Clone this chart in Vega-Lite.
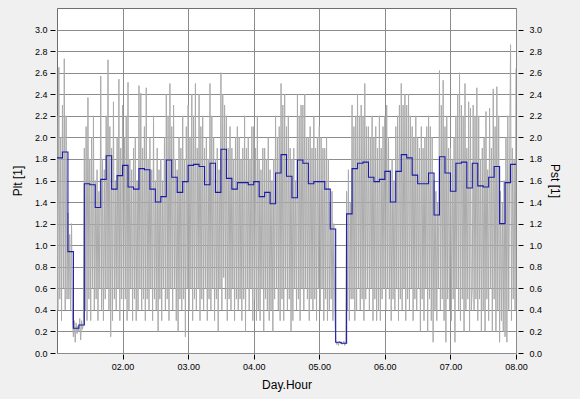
{
"$schema":"https://vega.github.io/schema/vega-lite/v6.json",
"width":459,"height":345,"autosize":"none",
"padding":{"left":57,"top":8,"right":64,"bottom":46},
"background":"#f0f0f0",
"config":{"view":{"fill":"white","stroke":"#6e6e6e","strokeWidth":1},"font":"Liberation Sans"},
"datasets":{
"plt":[{"t":1,"v":1.81},{"t":1.0833,"v":1.865},{"t":1.1667,"v":0.94},{"t":1.25,"v":0.23},{"t":1.3333,"v":0.26},{"t":1.4167,"v":1.57},{"t":1.5,"v":1.56},{"t":1.5833,"v":1.35},{"t":1.6667,"v":1.61},{"t":1.75,"v":1.83},{"t":1.8333,"v":1.52},{"t":1.9167,"v":1.645},
{"t":2,"v":1.74},{"t":2.0833,"v":1.54},{"t":2.1667,"v":1.52},{"t":2.25,"v":1.71},{"t":2.3333,"v":1.7},{"t":2.4167,"v":1.52},{"t":2.5,"v":1.4},{"t":2.5833,"v":1.45},{"t":2.6667,"v":1.79},{"t":2.75,"v":1.63},{"t":2.8333,"v":1.49},{"t":2.9167,"v":1.59},
{"t":3,"v":1.74},{"t":3.0833,"v":1.75},{"t":3.1667,"v":1.73},{"t":3.25,"v":1.56},{"t":3.3333,"v":1.76},{"t":3.4167,"v":1.49},{"t":3.5,"v":1.89},{"t":3.5833,"v":1.62},{"t":3.6667,"v":1.52},{"t":3.75,"v":1.58},{"t":3.8333,"v":1.58},{"t":3.9167,"v":1.56},
{"t":4,"v":1.59},{"t":4.0833,"v":1.45},{"t":4.1667,"v":1.49},{"t":4.25,"v":1.385},{"t":4.3333,"v":1.67},{"t":4.4167,"v":1.84},{"t":4.5,"v":1.64},{"t":4.5833,"v":1.44},{"t":4.6667,"v":1.79},{"t":4.75,"v":1.76},{"t":4.8333,"v":1.57},{"t":4.9167,"v":1.59},
{"t":5,"v":1.59},{"t":5.0833,"v":1.52},{"t":5.1667,"v":1.15},{"t":5.25,"v":0.1},{"t":5.3333,"v":0.09},{"t":5.4167,"v":1.29},{"t":5.5,"v":1.71},{"t":5.5833,"v":1.76},{"t":5.6667,"v":1.77},{"t":5.75,"v":1.63},{"t":5.8333,"v":1.59},{"t":5.9167,"v":1.61},
{"t":6,"v":1.685},{"t":6.0833,"v":1.4},{"t":6.1667,"v":1.685},{"t":6.25,"v":1.84},{"t":6.3333,"v":1.81},{"t":6.4167,"v":1.65},{"t":6.5,"v":1.57},{"t":6.5833,"v":1.57},{"t":6.6667,"v":1.67},{"t":6.75,"v":1.28},{"t":6.8333,"v":1.82},{"t":6.9167,"v":1.67},
{"t":7,"v":1.5},{"t":7.0833,"v":1.76},{"t":7.1667,"v":1.77},{"t":7.25,"v":1.53},{"t":7.3333,"v":1.76},{"t":7.4167,"v":1.55},{"t":7.5,"v":1.54},{"t":7.5833,"v":1.63},{"t":7.6667,"v":1.73},{"t":7.75,"v":1.2},{"t":7.8333,"v":1.58},{"t":7.9167,"v":1.75},{"t":8,"v":1.75}],
"pst":[
{"t":1.000,"p":2.2},{"t":1.014,"p":0.4},{"t":1.028,"p":2.65},{"t":1.042,"p":0.5},{"t":1.056,"p":2.0},{"t":1.069,"p":0.3},
{"t":1.083,"p":2.3},{"t":1.097,"p":0.6},{"t":1.111,"p":2.73},{"t":1.125,"p":0.4},{"t":1.139,"p":2.2},{"t":1.153,"p":0.5},
{"t":1.167,"p":1.3},{"t":1.181,"p":0.5},{"t":1.194,"p":1.1},{"t":1.208,"p":0.4},{"t":1.222,"p":1.2},{"t":1.236,"p":0.3},
{"t":1.250,"p":0.15},{"t":1.264,"p":0.3},{"t":1.278,"p":0.1},{"t":1.292,"p":0.28},{"t":1.306,"p":0.18},{"t":1.319,"p":0.25},
{"t":1.333,"p":0.2},{"t":1.347,"p":0.32},{"t":1.361,"p":0.12},{"t":1.375,"p":0.3},{"t":1.389,"p":0.22},{"t":1.403,"p":0.28},
{"t":1.417,"p":1.9},{"t":1.431,"p":0.4},{"t":1.444,"p":2.1},{"t":1.458,"p":0.3},{"t":1.472,"p":2.37},{"t":1.486,"p":0.5},
{"t":1.500,"p":1.8},{"t":1.514,"p":0.3},{"t":1.528,"p":2.0},{"t":1.542,"p":0.6},{"t":1.556,"p":2.2},{"t":1.569,"p":0.4},
{"t":1.583,"p":1.6},{"t":1.597,"p":0.5},{"t":1.611,"p":1.7},{"t":1.625,"p":0.3},{"t":1.639,"p":1.5},{"t":1.653,"p":0.6},
{"t":1.667,"p":2.57},{"t":1.681,"p":0.4},{"t":1.694,"p":1.8},{"t":1.708,"p":0.3},{"t":1.722,"p":1.7},{"t":1.736,"p":0.5},
{"t":1.750,"p":2.2},{"t":1.764,"p":0.6},{"t":1.778,"p":2.72},{"t":1.792,"p":0.4},{"t":1.806,"p":2.1},{"t":1.819,"p":0.15},
{"t":1.833,"p":1.9},{"t":1.847,"p":0.3},{"t":1.861,"p":2.33},{"t":1.875,"p":0.5},{"t":1.889,"p":1.6},{"t":1.903,"p":0.4},
{"t":1.917,"p":2.0},{"t":1.931,"p":0.6},{"t":1.944,"p":2.54},{"t":1.958,"p":0.3},{"t":1.972,"p":1.9},{"t":1.986,"p":0.5},
{"t":2.000,"p":2.3},{"t":2.014,"p":0.4},{"t":2.028,"p":2.0},{"t":2.042,"p":0.5},{"t":2.056,"p":2.2},{"t":2.069,"p":0.3},
{"t":2.083,"p":2.51},{"t":2.097,"p":0.4},{"t":2.111,"p":1.8},{"t":2.125,"p":0.6},{"t":2.139,"p":1.7},{"t":2.153,"p":0.3},
{"t":2.167,"p":1.9},{"t":2.181,"p":0.5},{"t":2.194,"p":2.0},{"t":2.208,"p":0.3},{"t":2.222,"p":1.6},{"t":2.236,"p":0.4},
{"t":2.250,"p":2.48},{"t":2.264,"p":0.6},{"t":2.278,"p":2.41},{"t":2.292,"p":0.4},{"t":2.306,"p":1.9},{"t":2.319,"p":0.5},
{"t":2.333,"p":2.1},{"t":2.347,"p":0.3},{"t":2.361,"p":2.46},{"t":2.375,"p":0.5},{"t":2.389,"p":1.8},{"t":2.403,"p":0.4},
{"t":2.417,"p":2.0},{"t":2.431,"p":0.6},{"t":2.444,"p":1.7},{"t":2.458,"p":0.3},{"t":2.472,"p":2.2},{"t":2.486,"p":0.5},
{"t":2.500,"p":1.6},{"t":2.514,"p":0.4},{"t":2.528,"p":1.9},{"t":2.542,"p":0.2},{"t":2.556,"p":1.7},{"t":2.569,"p":0.5},
{"t":2.583,"p":1.8},{"t":2.597,"p":0.3},{"t":2.611,"p":1.6},{"t":2.625,"p":0.6},{"t":2.639,"p":2.0},{"t":2.653,"p":0.4},
{"t":2.667,"p":2.4},{"t":2.681,"p":0.5},{"t":2.694,"p":2.2},{"t":2.708,"p":0.3},{"t":2.722,"p":2.5},{"t":2.736,"p":0.6},
{"t":2.750,"p":2.1},{"t":2.764,"p":0.4},{"t":2.778,"p":2.3},{"t":2.792,"p":0.6},{"t":2.806,"p":1.8},{"t":2.819,"p":0.3},
{"t":2.833,"p":1.7},{"t":2.847,"p":0.2},{"t":2.861,"p":2.0},{"t":2.875,"p":0.5},{"t":2.889,"p":1.9},{"t":2.903,"p":0.4},
{"t":2.917,"p":2.2},{"t":2.931,"p":0.5},{"t":2.944,"p":1.8},{"t":2.958,"p":0.15},{"t":2.972,"p":2.1},{"t":2.986,"p":0.6},
{"t":3.000,"p":2.3},{"t":3.014,"p":0.4},{"t":3.028,"p":2.0},{"t":3.042,"p":0.6},{"t":3.056,"p":2.4},{"t":3.069,"p":0.3},
{"t":3.083,"p":2.2},{"t":3.097,"p":0.5},{"t":3.111,"p":2.5},{"t":3.125,"p":0.4},{"t":3.139,"p":1.9},{"t":3.153,"p":0.6},
{"t":3.167,"p":2.4},{"t":3.181,"p":0.3},{"t":3.194,"p":2.1},{"t":3.208,"p":0.5},{"t":3.222,"p":2.2},{"t":3.236,"p":0.4},
{"t":3.250,"p":1.9},{"t":3.264,"p":0.6},{"t":3.278,"p":2.0},{"t":3.292,"p":0.3},{"t":3.306,"p":1.8},{"t":3.319,"p":0.5},
{"t":3.333,"p":2.5},{"t":3.347,"p":0.4},{"t":3.361,"p":2.2},{"t":3.375,"p":0.6},{"t":3.389,"p":2.0},{"t":3.403,"p":0.3},
{"t":3.417,"p":1.8},{"t":3.431,"p":0.5},{"t":3.444,"p":1.9},{"t":3.458,"p":0.2},{"t":3.472,"p":1.7},{"t":3.486,"p":0.6},
{"t":3.500,"p":2.6},{"t":3.514,"p":0.4},{"t":3.528,"p":2.4},{"t":3.542,"p":0.7},{"t":3.556,"p":2.3},{"t":3.569,"p":0.5},
{"t":3.583,"p":2.2},{"t":3.597,"p":0.3},{"t":3.611,"p":1.9},{"t":3.625,"p":0.5},{"t":3.639,"p":2.1},{"t":3.653,"p":0.4},
{"t":3.667,"p":1.9},{"t":3.681,"p":0.6},{"t":3.694,"p":1.8},{"t":3.708,"p":0.3},{"t":3.722,"p":2.0},{"t":3.736,"p":0.5},
{"t":3.750,"p":2.1},{"t":3.764,"p":0.4},{"t":3.778,"p":2.0},{"t":3.792,"p":0.5},{"t":3.806,"p":1.8},{"t":3.819,"p":0.3},
{"t":3.833,"p":1.9},{"t":3.847,"p":0.5},{"t":3.861,"p":2.2},{"t":3.875,"p":0.2},{"t":3.889,"p":1.9},{"t":3.903,"p":0.6},
{"t":3.917,"p":2.0},{"t":3.931,"p":0.4},{"t":3.944,"p":1.8},{"t":3.958,"p":0.6},{"t":3.972,"p":2.1},{"t":3.986,"p":0.3},
{"t":4.000,"p":2.1},{"t":4.014,"p":0.5},{"t":4.028,"p":1.9},{"t":4.042,"p":0.3},{"t":4.056,"p":2.2},{"t":4.069,"p":0.4},
{"t":4.083,"p":1.8},{"t":4.097,"p":0.3},{"t":4.111,"p":1.7},{"t":4.125,"p":0.6},{"t":4.139,"p":1.9},{"t":4.153,"p":0.2},
{"t":4.167,"p":1.9},{"t":4.181,"p":0.5},{"t":4.194,"p":1.8},{"t":4.208,"p":0.4},{"t":4.222,"p":2.0},{"t":4.236,"p":0.3},
{"t":4.250,"p":1.7},{"t":4.264,"p":0.4},{"t":4.278,"p":1.6},{"t":4.292,"p":0.2},{"t":4.306,"p":1.8},{"t":4.319,"p":0.5},
{"t":4.333,"p":2.2},{"t":4.347,"p":0.6},{"t":4.361,"p":2.0},{"t":4.375,"p":0.4},{"t":4.389,"p":2.1},{"t":4.403,"p":0.3},
{"t":4.417,"p":2.5},{"t":4.431,"p":0.5},{"t":4.444,"p":2.3},{"t":4.458,"p":0.3},{"t":4.472,"p":2.4},{"t":4.486,"p":0.6},
{"t":4.500,"p":2.1},{"t":4.514,"p":0.4},{"t":4.528,"p":2.2},{"t":4.542,"p":0.5},{"t":4.556,"p":1.9},{"t":4.569,"p":0.2},
{"t":4.583,"p":1.8},{"t":4.597,"p":0.3},{"t":4.611,"p":1.9},{"t":4.625,"p":0.6},{"t":4.639,"p":1.6},{"t":4.653,"p":0.4},
{"t":4.667,"p":2.4},{"t":4.681,"p":0.5},{"t":4.694,"p":2.2},{"t":4.708,"p":0.3},{"t":4.722,"p":2.3},{"t":4.736,"p":0.6},
{"t":4.750,"p":2.3},{"t":4.764,"p":0.4},{"t":4.778,"p":2.4},{"t":4.792,"p":0.6},{"t":4.806,"p":2.0},{"t":4.819,"p":0.5},
{"t":4.833,"p":2.0},{"t":4.847,"p":0.3},{"t":4.861,"p":2.1},{"t":4.875,"p":0.5},{"t":4.889,"p":1.9},{"t":4.903,"p":0.4},
{"t":4.917,"p":2.2},{"t":4.931,"p":0.5},{"t":4.944,"p":1.9},{"t":4.958,"p":0.3},{"t":4.972,"p":2.0},{"t":4.986,"p":0.6},
{"t":5.000,"p":2.1},{"t":5.014,"p":0.4},{"t":5.028,"p":2.0},{"t":5.042,"p":0.6},{"t":5.056,"p":1.9},{"t":5.069,"p":0.3},
{"t":5.083,"p":1.9},{"t":5.097,"p":0.5},{"t":5.111,"p":2.0},{"t":5.125,"p":0.3},{"t":5.139,"p":1.8},{"t":5.153,"p":0.4},
{"t":5.167,"p":1.4},{"t":5.181,"p":0.5},{"t":5.194,"p":1.5},{"t":5.208,"p":0.3},{"t":5.222,"p":1.2},{"t":5.236,"p":0.4},
{"t":5.250,"p":0.12},{"t":5.264,"p":0.08},{"t":5.278,"p":0.1},{"t":5.292,"p":0.07},{"t":5.306,"p":0.11},{"t":5.319,"p":0.09},
{"t":5.333,"p":0.1},{"t":5.347,"p":0.08},{"t":5.361,"p":0.09},{"t":5.375,"p":0.11},{"t":5.389,"p":0.07},{"t":5.403,"p":0.1},
{"t":5.417,"p":1.5},{"t":5.431,"p":0.4},{"t":5.444,"p":1.7},{"t":5.458,"p":0.3},{"t":5.472,"p":1.4},{"t":5.486,"p":0.5},
{"t":5.500,"p":2.3},{"t":5.514,"p":0.5},{"t":5.528,"p":2.1},{"t":5.542,"p":0.3},{"t":5.556,"p":2.2},{"t":5.569,"p":0.4},
{"t":5.583,"p":2.4},{"t":5.597,"p":0.6},{"t":5.611,"p":2.2},{"t":5.625,"p":0.4},{"t":5.639,"p":2.3},{"t":5.653,"p":0.5},
{"t":5.667,"p":2.2},{"t":5.681,"p":0.3},{"t":5.694,"p":2.5},{"t":5.708,"p":0.5},{"t":5.722,"p":2.1},{"t":5.736,"p":0.6},
{"t":5.750,"p":2.1},{"t":5.764,"p":0.4},{"t":5.778,"p":2.0},{"t":5.792,"p":0.6},{"t":5.806,"p":2.2},{"t":5.819,"p":0.3},
{"t":5.833,"p":2.0},{"t":5.847,"p":0.5},{"t":5.861,"p":2.1},{"t":5.875,"p":0.3},{"t":5.889,"p":1.9},{"t":5.903,"p":0.4},
{"t":5.917,"p":2.2},{"t":5.931,"p":0.3},{"t":5.944,"p":1.9},{"t":5.958,"p":0.5},{"t":5.972,"p":2.1},{"t":5.986,"p":0.6},
{"t":6.000,"p":2.2},{"t":6.014,"p":0.4},{"t":6.028,"p":2.3},{"t":6.042,"p":0.6},{"t":6.056,"p":2.0},{"t":6.069,"p":0.5},
{"t":6.083,"p":1.7},{"t":6.097,"p":0.3},{"t":6.111,"p":1.8},{"t":6.125,"p":0.5},{"t":6.139,"p":1.6},{"t":6.153,"p":0.4},
{"t":6.167,"p":2.1},{"t":6.181,"p":0.6},{"t":6.194,"p":2.2},{"t":6.208,"p":0.3},{"t":6.222,"p":2.3},{"t":6.236,"p":0.5},
{"t":6.250,"p":2.5},{"t":6.264,"p":0.4},{"t":6.278,"p":2.3},{"t":6.292,"p":0.6},{"t":6.306,"p":2.4},{"t":6.319,"p":0.3},
{"t":6.333,"p":2.3},{"t":6.347,"p":0.5},{"t":6.361,"p":2.4},{"t":6.375,"p":0.4},{"t":6.389,"p":2.2},{"t":6.403,"p":0.6},
{"t":6.417,"p":2.1},{"t":6.431,"p":0.3},{"t":6.444,"p":2.0},{"t":6.458,"p":0.5},{"t":6.472,"p":2.2},{"t":6.486,"p":0.4},
{"t":6.500,"p":2.0},{"t":6.514,"p":0.6},{"t":6.528,"p":1.9},{"t":6.542,"p":0.2},{"t":6.556,"p":2.1},{"t":6.569,"p":0.5},
{"t":6.583,"p":1.9},{"t":6.597,"p":0.3},{"t":6.611,"p":2.0},{"t":6.625,"p":0.6},{"t":6.639,"p":2.1},{"t":6.653,"p":0.2},
{"t":6.667,"p":2.2},{"t":6.681,"p":0.5},{"t":6.694,"p":2.1},{"t":6.708,"p":0.3},{"t":6.722,"p":2.0},{"t":6.736,"p":0.1},
{"t":6.750,"p":1.6},{"t":6.764,"p":0.4},{"t":6.778,"p":1.5},{"t":6.792,"p":0.3},{"t":6.806,"p":1.4},{"t":6.819,"p":0.6},
{"t":6.833,"p":2.62},{"t":6.847,"p":0.4},{"t":6.861,"p":2.3},{"t":6.875,"p":0.5},{"t":6.889,"p":2.53},{"t":6.903,"p":0.3},
{"t":6.917,"p":2.1},{"t":6.931,"p":0.1},{"t":6.944,"p":2.2},{"t":6.958,"p":0.5},{"t":6.972,"p":1.9},{"t":6.986,"p":0.4},
{"t":7.000,"p":1.9},{"t":7.014,"p":0.3},{"t":7.028,"p":1.8},{"t":7.042,"p":0.5},{"t":7.056,"p":2.0},{"t":7.069,"p":0.1},
{"t":7.083,"p":2.2},{"t":7.097,"p":0.6},{"t":7.111,"p":2.4},{"t":7.125,"p":0.4},{"t":7.139,"p":2.6},{"t":7.153,"p":0.3},
{"t":7.167,"p":2.3},{"t":7.181,"p":0.5},{"t":7.194,"p":2.2},{"t":7.208,"p":0.2},{"t":7.222,"p":2.5},{"t":7.236,"p":0.4},
{"t":7.250,"p":1.9},{"t":7.264,"p":0.5},{"t":7.278,"p":2.33},{"t":7.292,"p":0.2},{"t":7.306,"p":2.27},{"t":7.319,"p":0.4},
{"t":7.333,"p":0.6},{"t":7.347,"p":2.3},{"t":7.361,"p":0.4},{"t":7.375,"p":2.2},{"t":7.389,"p":0.5},{"t":7.403,"p":2.46},
{"t":7.417,"p":0.3},{"t":7.431,"p":2.2},{"t":7.444,"p":0.5},{"t":7.458,"p":1.8},{"t":7.472,"p":0.2},{"t":7.486,"p":1.9},
{"t":7.500,"p":0.4},{"t":7.514,"p":2.0},{"t":7.528,"p":0.2},{"t":7.542,"p":2.24},{"t":7.556,"p":0.5},{"t":7.569,"p":1.7},
{"t":7.583,"p":0.3},{"t":7.597,"p":2.27},{"t":7.611,"p":0.6},{"t":7.625,"p":1.9},{"t":7.639,"p":0.2},{"t":7.653,"p":2.45},
{"t":7.667,"p":0.5},{"t":7.681,"p":2.1},{"t":7.694,"p":0.2},{"t":7.708,"p":2.47},{"t":7.722,"p":0.4},{"t":7.736,"p":2.2},
{"t":7.750,"p":0.1},{"t":7.764,"p":1.5},{"t":7.778,"p":0.3},{"t":7.792,"p":1.4},{"t":7.806,"p":0.2},{"t":7.819,"p":1.6},
{"t":7.833,"p":0.15},{"t":7.847,"p":2.0},{"t":7.861,"p":0.1},{"t":7.875,"p":2.2},{"t":7.889,"p":0.4},{"t":7.903,"p":1.8},
{"t":7.917,"p":2.86},{"t":7.931,"p":0.3},{"t":7.944,"p":1.9},{"t":7.958,"p":0.5},{"t":7.972,"p":1.8},{"t":7.986,"p":0.4},
{"t":8.000,"p":2.64}]
},
"layer":[
{"data":{"name":"pst"},
 "mark":{"type":"line","color":"#ababab","strokeWidth":1,"clip":true},
 "encoding":{
  "x":{"field":"t","type":"quantitative","scale":{"domain":[1,8],"nice":false,"zero":false},
   "axis":{"values":[2,3,4,5,6,7,8],"labelExpr":"'0' + format(datum.value, '.2f')","title":"Day.Hour","titleFontSize":12,"titleFontWeight":"normal","titleColor":"#000","titlePadding":8,"labelFontSize":9,"labelColor":"#000","labelPadding":3,"tickSize":5,"tickColor":"#000","domain":false,"offset":1,"grid":true,"gridColor":"#8c8c8c","labelFlush":false}},
  "y":{"field":"p","type":"quantitative","scale":{"domain":[0,3.2],"nice":false},
   "axis":{"orient":"right","values":[0,0.2,0.4,0.6,0.8,1,1.2,1.4,1.6,1.8,2,2.2,2.4,2.6,2.8,3],"format":".1f","title":"Pst [1]","titleAngle":90,"titleFontSize":12,"titleFontWeight":"normal","titleColor":"#000","titlePadding":6,"labelFontSize":9,"labelColor":"#000","labelPadding":6,"tickSize":5,"tickColor":"#000","domain":false,"offset":2,"grid":false}}
 }},
{"data":{"name":"plt"},
 "mark":{"type":"line","interpolate":"step-after","color":"#1a1aa8","strokeWidth":1.1},
 "encoding":{
  "x":{"field":"t","type":"quantitative"},
  "y":{"field":"v","type":"quantitative","scale":{"domain":[0,3.2],"nice":false},
   "axis":{"orient":"left","values":[0,0.2,0.4,0.6,0.8,1,1.2,1.4,1.6,1.8,2,2.2,2.4,2.6,2.8,3],"format":".1f","title":"Plt [1]","titleFontSize":12,"titleFontWeight":"normal","titleColor":"#000","titlePadding":10,"labelFontSize":9,"labelColor":"#000","labelPadding":3,"tickSize":5,"tickColor":"#000","domain":false,"offset":2,"grid":true,"gridColor":"#8c8c8c"}}
 }}
],
"resolve":{"scale":{"y":"independent"}}
}
